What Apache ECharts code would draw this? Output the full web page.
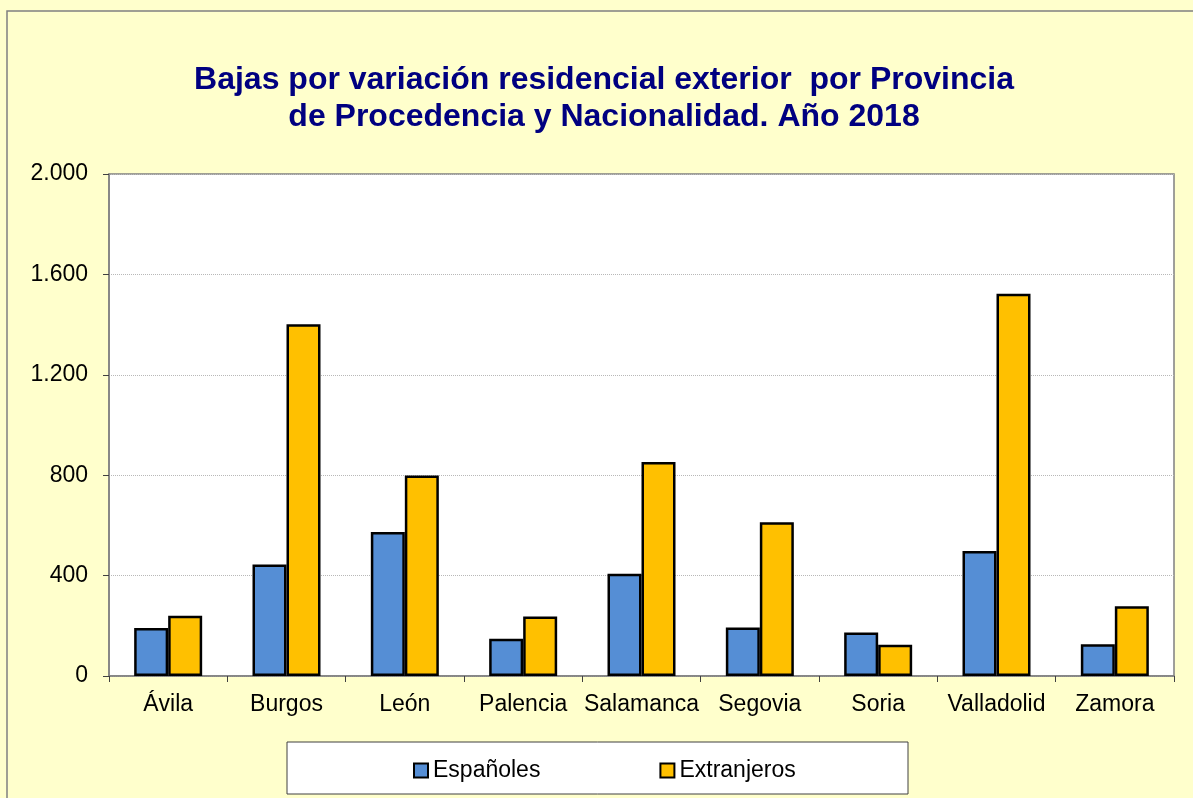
<!DOCTYPE html>
<html>
<head>
<meta charset="utf-8">
<script src="https://cdn.jsdelivr.net/npm/echarts@6/dist/echarts.min.js"></script>
<style>
  html, body { margin: 0; padding: 0; background: #ffffcc; }
  #main { width: 1193px; height: 798px; }
</style>
</head>
<body>
<div id="main"></div>
<script>
// datos
var provincias = ['Ávila', 'Burgos', 'León', 'Palencia', 'Salamanca', 'Segovia', 'Soria', 'Valladolid', 'Zamora'];
var espanoles = [191, 444, 574, 148, 407, 193, 173, 498, 126];
var extranjeros = [240, 1401, 799, 237, 853, 613, 125, 1523, 278];
var yTicks = [0, 400, 800, 1200, 1600, 2000];

var fuente = 'Liberation Sans, Arial, sans-serif';

function miles(v) {
  return String(v).replace(/\B(?=(\d{3})+(?!\d))/g, '.');
}

var myChart = echarts.init(document.getElementById('main'));
myChart.setOption({
  backgroundColor: '#ffffcc',
  animation: false,
  title: {
    text: 'Bajas por variación residencial exterior  por Provincia\nde Procedencia y Nacionalidad. Año 2018',
    left: 599,
    top: 57,
    textAlign: 'center',
    textStyle: {
      color: '#000080',
      fontFamily: fuente,
      fontWeight: 'bold',
      fontSize: 32,
      lineHeight: 37
    }
  },
  graphic: [
    {
      type: 'rect',
      z: -10,
      shape: { x: 7, y: 11, width: 1220, height: 820 },
      style: { fill: '#ffffcc', stroke: '#808080', lineWidth: 1.5 }
    },
    {
      type: 'rect',
      z: -5,
      shape: { x: 287, y: 742, width: 621, height: 52 },
      style: { fill: '#ffffff', stroke: '#404040', lineWidth: 1 }
    }
  ],
  legend: {
    data: ['Españoles', 'Extranjeros'],
    left: 408,
    top: 754,
    itemGap: 119,
    itemWidth: 14,
    itemHeight: 14,
    icon: 'rect',
    textStyle: { color: '#000', fontFamily: fuente, fontSize: 23 }
  },
  grid: {
    left: 109,
    top: 174,
    width: 1065,
    height: 502,
    show: true,
    backgroundColor: '#ffffff',
    borderColor: '#808080',
    borderWidth: 1.5
  },
  xAxis: {
    type: 'category',
    data: provincias,
    axisLine: { lineStyle: { color: '#808080', width: 1.5 } },
    axisTick: { show: true, length: 6, lineStyle: { color: '#404040' } },
    axisLabel: { color: '#000', fontFamily: fuente, fontSize: 23, margin: 17, interval: 0 }
  },
  yAxis: {
    type: 'value',
    min: yTicks[0],
    max: yTicks[yTicks.length - 1],
    interval: 400,
    axisLine: { show: true, lineStyle: { color: '#808080', width: 1.5 } },
    axisTick: { show: true, length: 6, lineStyle: { color: '#404040' } },
    axisLabel: {
      color: '#000', fontFamily: fuente, fontSize: 23, margin: 21,
      formatter: function (v) { return miles(v); }
    },
    splitLine: { show: true, lineStyle: { color: '#b8b8b8', type: 'dotted', width: 1 } }
  },
  series: [
    {
      name: 'Españoles',
      type: 'bar',
      barWidth: 34,
      barGap: '0%',
      itemStyle: { color: '#558ed5', borderColor: '#000', borderWidth: 2.5 },
      data: espanoles
    },
    {
      name: 'Extranjeros',
      type: 'bar',
      barWidth: 34,
      itemStyle: { color: '#ffc000', borderColor: '#000', borderWidth: 2.5 },
      data: extranjeros
    }
  ]
});
</script>
</body>
</html>
